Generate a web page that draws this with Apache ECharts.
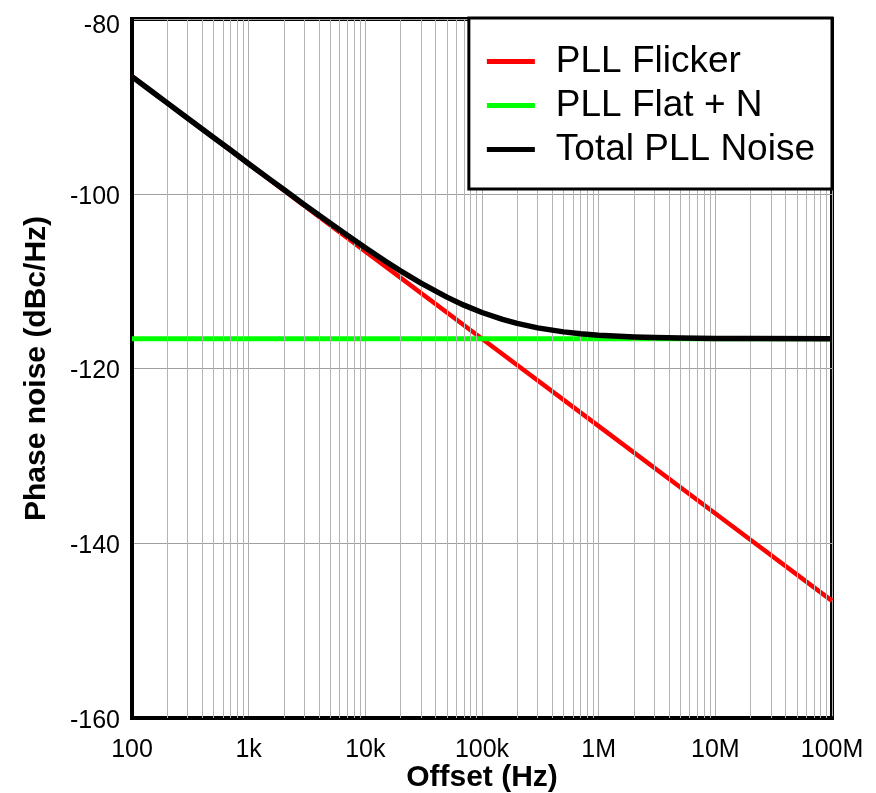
<!DOCTYPE html>
<html>
<head>
<meta charset="utf-8">
<script src="https://cdn.jsdelivr.net/npm/echarts@6/dist/echarts.min.js"></script>
<style>html,body{margin:0;padding:0;background:#fff}#c{width:876px;height:793px}</style>
</head>
<body>
<div id="c"></div>
<script>
// PLL Flicker: offset (Hz) and level (dBc/Hz)
const flickerFreq = [100, 1e3, 1e4, 1e5, 1e6, 1e7, 1e8];
const flicker = [-86.6, -96.6, -106.6, -116.6, -126.6, -136.6, -146.6];
// PLL Flat + N
const flatFreq = [100, 1e3, 1e4, 1e5, 1e6, 1e7, 1e8];
const flat = [-116.6, -116.6, -116.6, -116.6, -116.6, -116.6, -116.6];
// Total PLL Noise
const totalFreq = [100, 150, 200, 300, 500, 700, 1e3, 1.5e3, 2e3, 3e3, 5e3, 7e3, 1e4, 1.5e4, 2e4, 3e4, 5e4, 7e4, 1e5, 1.5e5, 2e5, 3e5, 5e5, 7e5, 1e6, 1.5e6, 2e6, 3e6, 5e6, 1e7, 2e7, 1e8];
const total = [-86.6, -88.36, -89.6, -91.36, -93.56, -95.0, -96.56, -98.3, -99.52, -101.25, -103.38, -104.76, -106.19, -107.75, -108.82, -110.23, -111.83, -112.75, -113.59, -114.38, -114.84, -115.35, -115.81, -116.02, -116.19, -116.32, -116.39, -116.46, -116.51, -116.56, -116.58, -116.6];

const xTickValues = [100, 1e3, 1e4, 1e5, 1e6, 1e7, 1e8];
const xTickLabels = ['100', '1k', '10k', '100k', '1M', '10M', '100M'];
const yTicks = [-160, -140, -120, -100, -80];

const FONT = "'Liberation Sans', Arial, sans-serif";

// minor vertical grid positions (2..9 within each decade)
const minorX = [];
for (let d = 0; d < xTickValues.length - 1; d++) {
  for (let k = 2; k <= 9; k++) minorX.push(k * xTickValues[d]);
}

const pairs = (xs, ys) => xs.map((f, i) => [f, ys[i]]);

const chart = echarts.init(document.getElementById('c'), null, {renderer: 'canvas'});
chart.setOption({
  animation: false,
  backgroundColor: '#ffffff',
  textStyle: {fontFamily: FONT},
  grid: {
    left: 132, right: 44, top: 19, bottom: 75,
    containLabel: false, outerBoundsMode: 'none',
    show: true, borderColor: '#000', borderWidth: 4, backgroundColor: 'transparent'
  },
  legend: {
    right: 44, top: 18,
    orient: 'vertical',
    backgroundColor: '#fff',
    borderColor: '#000', borderWidth: 3, borderRadius: 0,
    padding: [25, 17, 21, 18],
    itemGap: 7,
    itemWidth: 48, itemHeight: 5,
    icon: 'rect',
    selectedMode: false,
    textStyle: {fontFamily: FONT, fontSize: 37, lineHeight: 36, color: '#000', padding: [0, 0, 0, 16]},
    data: ['PLL Flicker', 'PLL Flat + N', 'Total PLL Noise'],
    z: 10
  },
  xAxis: {
    type: 'log', logBase: 10, min: 100, max: 1e8,
    name: 'Offset (Hz)', nameLocation: 'middle', nameGap: 45, nameMoveOverlap: false,
    nameTextStyle: {fontFamily: FONT, fontSize: 30, fontWeight: 'bold', color: '#000'},
    axisLine: {show: true, onZero: false, lineStyle: {color: '#000', width: 4}},
    axisTick: {show: false},
    axisLabel: {
      fontFamily: FONT, fontSize: 25, color: '#000', margin: 20,
      formatter: (v) => { const i = xTickValues.findIndex(t => Math.abs(t - v) / t < 1e-6); return i >= 0 ? xTickLabels[i] : ''; }
    },
    splitLine: {show: true, lineStyle: {color: '#b0b0b0', width: 1}},
    minorTick: {show: false}
  },
  yAxis: {
    type: 'value', min: yTicks[0], max: yTicks[yTicks.length - 1], interval: 20,
    name: 'Phase noise (dBc/Hz)', nameLocation: 'middle', nameGap: 80, nameRotate: 90, nameMoveOverlap: false,
    nameTextStyle: {fontFamily: FONT, fontSize: 30, fontWeight: 'bold', color: '#000'},
    axisLine: {show: true, lineStyle: {color: '#000', width: 4}},
    axisTick: {show: false},
    axisLabel: {
      fontFamily: FONT, fontSize: 25, color: '#000', margin: 12,
      formatter: (v) => v === yTicks[yTicks.length - 1] ? '{top|' + v + '}' : '{n|' + v + '}',
      rich: {
        n: {fontFamily: FONT, fontSize: 25, color: '#000', padding: [6, 0, 0, 0]},
        top: {fontFamily: FONT, fontSize: 25, color: '#000', padding: [14, 0, 0, 0]}
      }
    },
    splitLine: {show: true, lineStyle: {color: '#a0a0a0', width: 1}}
  },
  series: [
    {
      name: 'minor-grid', type: 'line', data: [], silent: true, z: 1,
      markLine: {
        silent: true, symbol: ['none', 'none'], animation: false,
        label: {show: false},
        lineStyle: {color: '#b4b4b4', width: 1, type: 'solid'},
        emphasis: {disabled: true},
        data: minorX.map(v => ({xAxis: v}))
      }
    },
    {
      name: 'PLL Flicker', type: 'line', data: pairs(flickerFreq, flicker), showSymbol: false, symbol: 'none',
      color: '#ff0000', lineStyle: {color: '#ff0000', width: 4.5}, z: 3
    },
    {
      name: 'PLL Flat + N', type: 'line', data: pairs(flatFreq, flat), showSymbol: false, symbol: 'none',
      color: '#00ff00', lineStyle: {color: '#00ff00', width: 5}, z: 4
    },
    {
      name: 'Total PLL Noise', type: 'line', data: pairs(totalFreq, total), showSymbol: false, symbol: 'none',
      color: '#000000', lineStyle: {color: '#000000', width: 5.5, join: 'round'}, z: 5
    }
  ]
});
</script>
</body>
</html>
